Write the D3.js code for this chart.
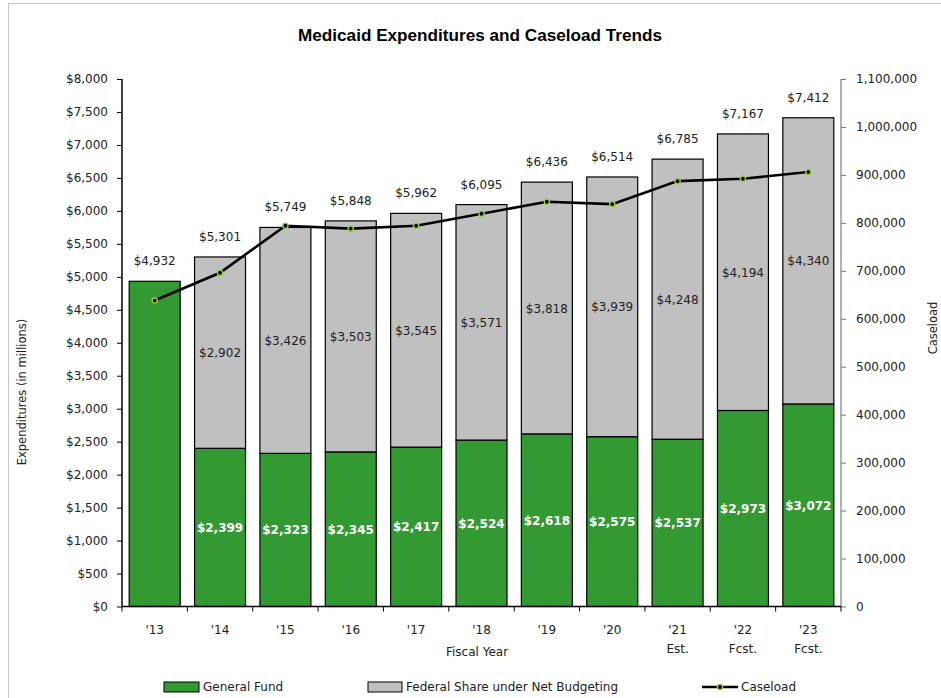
<!DOCTYPE html>
<html><head><meta charset="utf-8">
<script src="https://cdn.jsdelivr.net/npm/d3@7"></script>
<style>body{margin:0;background:#fff}svg{display:block}text{font-family:"DejaVu Sans",sans-serif;fill:#222}</style>
</head><body><svg id="c" width="941" height="698"></svg>
<script>
const years = ["'13","'14","'15","'16","'17","'18","'19","'20","'21","'22","'23"];
const yearSub = ["","","","","","","","","Est.","Fcst.","Fcst."];
const generalFund = [4932,2399,2323,2345,2417,2524,2618,2575,2537,2973,3072];
const federalShare = [0,2902,3426,3503,3545,3571,3818,3939,4248,4194,4340];
const totals = [4932,5301,5749,5848,5962,6095,6436,6514,6785,7167,7412];
const caseload = [638000,696000,794000,788000,794000,819000,844000,839000,887000,892000,906000];
const leftTicks = d3.range(0,8001,500);
const rightTicks = d3.range(0,1100001,100000);

const svg = d3.select("#c");
svg.append("rect").attr("x",8.5).attr("y",3.5).attr("width",940).attr("height",700)
  .attr("fill","#fff").attr("stroke","#c8c8c8");

const L=122, R=841, T=79, B=606.5;
const x = d3.scaleBand().domain(years).range([L,R]).paddingInner(0.22).paddingOuter(0.11);
const yL = d3.scaleLinear().domain([0,8000]).range([B,T]);
const yR = d3.scaleLinear().domain([0,1100000]).range([B,T]);
const fmt = d3.format(",");

// bars
const g = svg.append("g");
years.forEach((yr,i)=>{
  const xb = x(yr), w = x.bandwidth();
  g.append("rect").attr("x",xb).attr("y",yL(generalFund[i])).attr("width",w)
    .attr("height",yL(0)-yL(generalFund[i])).attr("fill","#339933").attr("stroke","#000").attr("stroke-width",1.2);
  if(federalShare[i]>0){
    g.append("rect").attr("x",xb).attr("y",yL(generalFund[i]+federalShare[i])).attr("width",w)
      .attr("height",yL(generalFund[i])-yL(generalFund[i]+federalShare[i])).attr("fill","#c0c0c0").attr("stroke","#000").attr("stroke-width",1.2);
    g.append("text").attr("x",xb+w/2).attr("y",yL(generalFund[i]+federalShare[i]/2)+4.5)
      .attr("text-anchor","middle").attr("font-size",12).text("$"+fmt(federalShare[i]));
    g.append("text").attr("x",xb+w/2).attr("y",yL(generalFund[i]/2)+4.5)
      .attr("text-anchor","middle").attr("font-size",12).attr("font-weight","bold")
      .style("fill","#fff").text("$"+fmt(generalFund[i]));
  }
  g.append("text").attr("x",xb+w/2).attr("y",yL(totals[i])-16)
    .attr("text-anchor","middle").attr("font-size",12).text("$"+fmt(totals[i]));
});

// axes
const axL = svg.append("g").attr("transform",`translate(${L},0)`)
  .call(d3.axisLeft(yL).tickValues(leftTicks).tickSize(5).tickPadding(9).tickFormat(d=>"$"+fmt(d)));
axL.select(".domain").attr("stroke","#000").attr("stroke-width",1.5).attr("d",`M0,${T}V${B}`);
axL.selectAll("text").attr("font-size",12).style("fill","#222");

const axR = svg.append("g").attr("transform",`translate(${R},0)`)
  .call(d3.axisRight(yR).tickValues(rightTicks).tickSize(5).tickPadding(10).tickFormat(d=>fmt(d)));
axR.select(".domain").attr("stroke","#999").attr("stroke-width",1.5).attr("d",`M0,${T}V${B}`);
axR.selectAll("line").attr("stroke","#777");
axR.selectAll("text").attr("font-size",12).style("fill","#222");

// x axis
const axB = svg.append("g").attr("transform",`translate(0,${B})`);
axB.append("line").attr("x1",L).attr("x2",R).attr("stroke","#000").attr("stroke-width",1.5);
const bounds = years.map(yr=>x(yr)-x.step()*x.paddingInner()/2).concat([R]);
bounds.forEach(b=>axB.append("line").attr("x1",b).attr("x2",b).attr("y1",0).attr("y2",5).attr("stroke","#000"));
years.forEach((yr,i)=>{
  axB.append("text").attr("x",x(yr)+x.bandwidth()/2).attr("y",27).attr("text-anchor","middle").attr("font-size",12).text(yr);
  if(yearSub[i]) axB.append("text").attr("x",x(yr)+x.bandwidth()/2).attr("y",46).attr("text-anchor","middle").attr("font-size",12).text(yearSub[i]);
});

// caseload line
const line = d3.line().x((d,i)=>x(years[i])+x.bandwidth()/2).y(d=>yR(d));
svg.append("path").datum(caseload).attr("d",line).attr("fill","none").attr("stroke","#000").attr("stroke-width",2.6);
caseload.forEach((d,i)=>{
  const cx=x(years[i])+x.bandwidth()/2, cy=yR(d);
  svg.append("circle").attr("cx",cx).attr("cy",cy).attr("r",2.6).attr("fill","#000").attr("stroke","#9acd32").attr("stroke-width",1.4);
});

// titles
svg.append("text").attr("x",480).attr("y",41).attr("text-anchor","middle")
  .attr("font-size",16).attr("font-weight","bold").style("font-family","'Liberation Sans Narrow','Liberation Sans',sans-serif")
  .attr("textLength",364).attr("lengthAdjust","spacingAndGlyphs").style("fill","#000")
  .text("Medicaid Expenditures and Caseload Trends");
svg.append("text").attr("transform","translate(26,392) rotate(-90)").attr("text-anchor","middle")
  .attr("font-size",11.5).text("Expenditures (in millions)");
svg.append("text").attr("transform","translate(937,328) rotate(-90)").attr("text-anchor","middle")
  .attr("font-size",11.5).text("Caseload");
svg.append("text").attr("x",477).attr("y",656).attr("text-anchor","middle").attr("font-size",12).text("Fiscal Year");

// legend
const lg = svg.append("g");
lg.append("rect").attr("x",164).attr("y",682).attr("width",35).attr("height",10).attr("fill","#339933").attr("stroke","#000");
lg.append("text").attr("x",203).attr("y",691).attr("font-size",12).text("General Fund");
lg.append("rect").attr("x",368).attr("y",682).attr("width",34).attr("height",10).attr("fill","#c0c0c0").attr("stroke","#000");
lg.append("text").attr("x",406).attr("y",691).attr("font-size",12).text("Federal Share under Net Budgeting");
lg.append("line").attr("x1",702).attr("x2",738).attr("y1",687).attr("y2",687).attr("stroke","#000").attr("stroke-width",2.6);
lg.append("circle").attr("cx",720).attr("cy",687).attr("r",2.6).attr("fill","#000").attr("stroke","#9acd32").attr("stroke-width",1.4);
lg.append("text").attr("x",741).attr("y",691).attr("font-size",12).text("Caseload");
</script></body></html>
